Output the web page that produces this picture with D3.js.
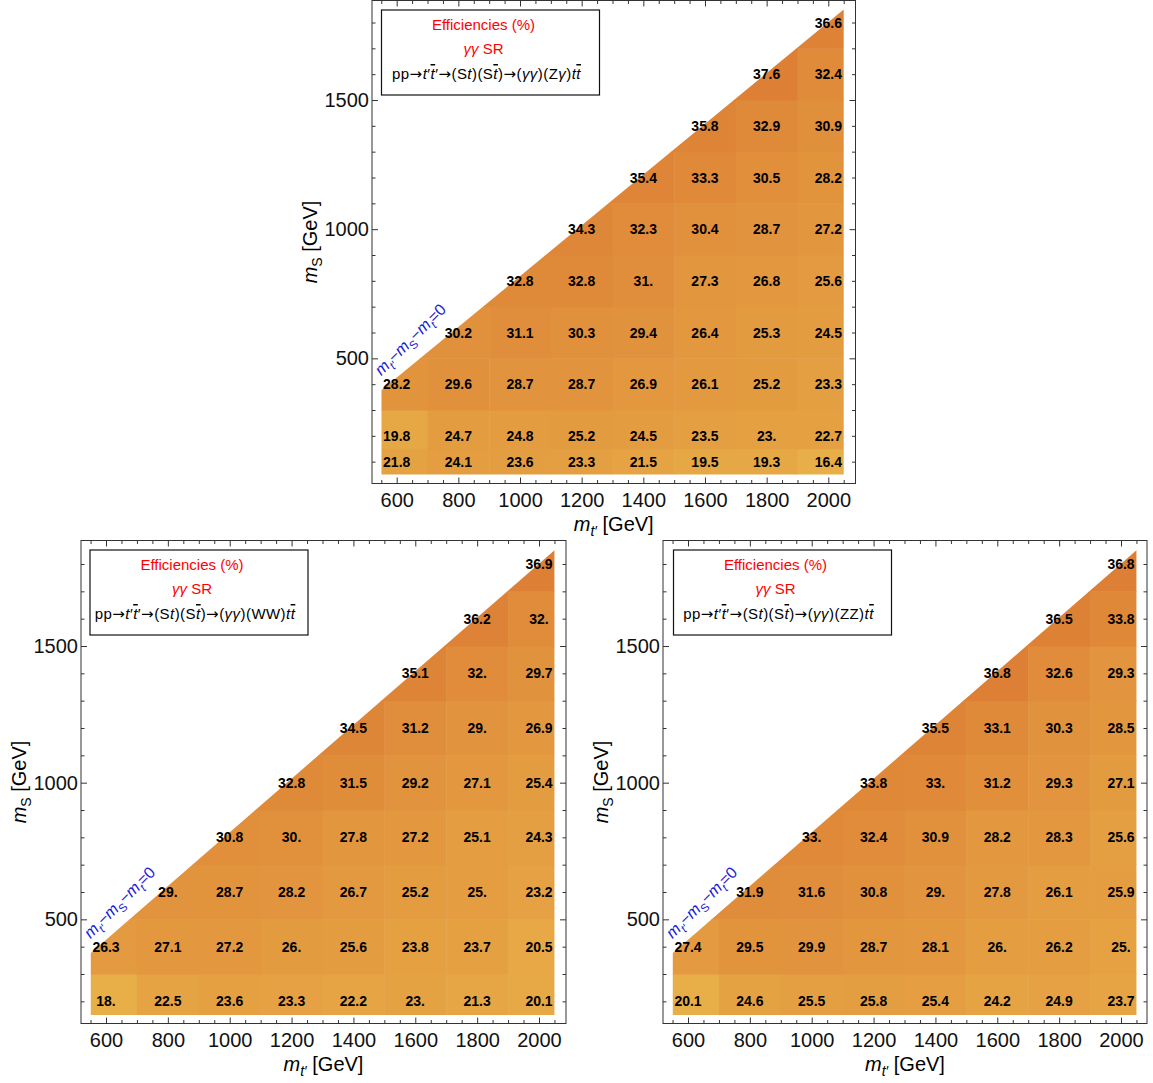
<!DOCTYPE html>
<html>
<head>
<meta charset="utf-8">
<script src="https://cdn.jsdelivr.net/npm/d3@7"></script>
<style>
	body { margin: 0; background: #fff; }
	svg text { font-family: "Liberation Sans", Arial, sans-serif; }
</style>
</head>
<body>
<div id="chart"></div>
<script>
// grid of the scan: m_t' columns, m_S rows
const mtValues = [600, 800, 1000, 1200, 1400, 1600, 1800, 2000];
const msTop = [100, 200, 400, 600, 800, 1000, 1200, 1400, 1600, 1800];
const msBottom = [200, 400, 600, 800, 1000, 1200, 1400, 1600, 1800];

// efficiencies (%), one row per m_S value, null above the kinematic edge
const effZgamma = [
	[21.8, 24.1, 23.6, 23.3, 21.5, 19.5, 19.3, 16.4],
	[19.8, 24.7, 24.8, 25.2, 24.5, 23.5, 23.0, 22.7],
	[28.2, 29.6, 28.7, 28.7, 26.9, 26.1, 25.2, 23.3],
	[null, 30.2, 31.1, 30.3, 29.4, 26.4, 25.3, 24.5],
	[null, null, 32.8, 32.8, 31.0, 27.3, 26.8, 25.6],
	[null, null, null, 34.3, 32.3, 30.4, 28.7, 27.2],
	[null, null, null, null, 35.4, 33.3, 30.5, 28.2],
	[null, null, null, null, null, 35.8, 32.9, 30.9],
	[null, null, null, null, null, null, 37.6, 32.4],
	[null, null, null, null, null, null, null, 36.6]
];

const effWW = [
	[18.0, 22.5, 23.6, 23.3, 22.2, 23.0, 21.3, 20.1],
	[26.3, 27.1, 27.2, 26.0, 25.6, 23.8, 23.7, 20.5],
	[null, 29.0, 28.7, 28.2, 26.7, 25.2, 25.0, 23.2],
	[null, null, 30.8, 30.0, 27.8, 27.2, 25.1, 24.3],
	[null, null, null, 32.8, 31.5, 29.2, 27.1, 25.4],
	[null, null, null, null, 34.5, 31.2, 29.0, 26.9],
	[null, null, null, null, null, 35.1, 32.0, 29.7],
	[null, null, null, null, null, null, 36.2, 32.0],
	[null, null, null, null, null, null, null, 36.9]
];

const effZZ = [
	[20.1, 24.6, 25.5, 25.8, 25.4, 24.2, 24.9, 23.7],
	[27.4, 29.5, 29.9, 28.7, 28.1, 26.0, 26.2, 25.0],
	[null, 31.9, 31.6, 30.8, 29.0, 27.8, 26.1, 25.9],
	[null, null, 33.0, 32.4, 30.9, 28.2, 28.3, 25.6],
	[null, null, null, 33.8, 33.0, 31.2, 29.3, 27.1],
	[null, null, null, null, 35.5, 33.1, 30.3, 28.5],
	[null, null, null, null, null, 36.8, 32.6, 29.3],
	[null, null, null, null, null, null, 36.5, 33.8],
	[null, null, null, null, null, null, null, 36.8]
];

const xTicks = [600, 800, 1000, 1200, 1400, 1600, 1800, 2000];
const yTicks = [500, 1000, 1500];

class EfficiencyPanel {
	constructor(svg, opts) {
		this.svg = svg;
		this.opts = opts;
		this.g = svg.append('g').attr('class', 'panel');
		this.x = d3.scaleLinear().domain([600, 2000]).range(opts.xRange);
		this.y = d3.scaleLinear().domain([0, 1500]).range(opts.yRange);
	}

	fmt(v) {
		return Number.isInteger(v) ? v + '.' : v.toFixed(1);
	}

	cells() {
		let o = this.opts;
		let rows = o.ms;
		let out = [];
		o.values.forEach((row, i) => {
			let first = row.findIndex(v => v !== null);
			row.forEach((v, j) => {
				if (v === null) return;
				out.push({
					v: v, mt: mtValues[j], ms: rows[i],
					x0: j == first ? o.xEdge[0] : (mtValues[j - 1] + mtValues[j]) / 2,
					x1: j == mtValues.length - 1 ? o.xEdge[1] : (mtValues[j] + mtValues[j + 1]) / 2,
					y0: i == 0 ? o.yEdge[0] : (rows[i - 1] + rows[i]) / 2,
					y1: i == rows.length - 1 ? o.yEdge[1] + 50 : (rows[i] + rows[i + 1]) / 2
				});
			});
		});
		return out;
	}

	draw() {
		let o = this.opts, x = this.x, y = this.y, g = this.g;
		let data = this.cells();
		let flat = data.map(d => d.v);
		let clr = d3.scaleLinear().domain(d3.extent(flat)).range(['#e8ae48', '#dd8035']);

		// region below m_t' - m_S - m_t = 0
		let edge = o.diagonal;
		let poly = [
			[o.xEdge[0], o.yEdge[0]], [edge[0][0], edge[0][1]], [edge[1][0], edge[1][1]], [o.xEdge[1], o.yEdge[0]]
		].map(p => [x(p[0]), y(p[1])]);

		g.append('clipPath').attr('id', 'clip-' + o.id)
			.append('path').attr('d', 'M' + poly.join('L') + 'Z');

		g.append('g')
			.attr('clip-path', 'url(#clip-' + o.id + ')')
			.selectAll('rect')
			.data(data)
			.enter()
			.append('rect')
			.attr('x', d => x(d.x0))
			.attr('y', d => y(d.y1))
			.attr('width', d => x(d.x1) - x(d.x0) + 0.5)
			.attr('height', d => y(d.y0) - y(d.y1) + 0.5)
			.attr('fill', d => clr(d.v));

		g.selectAll('.val')
			.data(data)
			.enter()
			.append('text')
			.attr('class', 'val')
			.attr('x', d => x(d.mt))
			.attr('y', d => y(d.ms))
			.attr('dy', '0.36em')
			.attr('text-anchor', 'middle')
			.attr('font-size', 14)
			.attr('font-weight', 'bold')
			.text(d => this.fmt(d.v));

		this.drawAxes();
		this.drawDiagonalLabel();
		this.drawLegend();
	}

	drawAxes() {
		let o = this.opts, x = this.x, y = this.y, g = this.g;
		let f = o.frame;
		let xMinor = d3.range(550, 2051, 50).filter(v => xTicks.indexOf(v) < 0);
		let yMinor = d3.range(100, 1900, 100).filter(v => yTicks.indexOf(v) < 0 && y(v) < f[3] && y(v) > f[2]);
		let num = d3.format('d');

		let addAxis = (axis, tr) => {
			let a = g.append('g').attr('transform', tr).call(axis);
			a.select('.domain').remove();
			a.selectAll('line').attr('stroke', '#333');
			a.selectAll('text').attr('font-size', 20).attr('fill', '#111').attr('font-family', '"Liberation Sans", Arial, sans-serif');
			return a;
		};

		addAxis(d3.axisBottom(x).tickValues(xTicks).tickFormat(num).tickSizeInner(-6).tickSizeOuter(0).tickPadding(9), 'translate(0,' + f[3] + ')');
		addAxis(d3.axisBottom(x).tickValues(xMinor).tickSizeInner(-3.5).tickSizeOuter(0).tickFormat(''), 'translate(0,' + f[3] + ')');
		addAxis(d3.axisTop(x).tickValues(xTicks).tickSizeInner(-6).tickSizeOuter(0).tickFormat(''), 'translate(0,' + f[2] + ')');
		addAxis(d3.axisTop(x).tickValues(xMinor).tickSizeInner(-3.5).tickSizeOuter(0).tickFormat(''), 'translate(0,' + f[2] + ')');
		addAxis(d3.axisLeft(y).tickValues(yTicks).tickFormat(num).tickSizeInner(-6).tickSizeOuter(0).tickPadding(3), 'translate(' + f[0] + ',0)');
		addAxis(d3.axisLeft(y).tickValues(yMinor).tickSizeInner(-3.5).tickSizeOuter(0).tickFormat(''), 'translate(' + f[0] + ',0)');
		addAxis(d3.axisRight(y).tickValues(yTicks).tickSizeInner(-6).tickSizeOuter(0).tickFormat(''), 'translate(' + f[1] + ',0)');
		addAxis(d3.axisRight(y).tickValues(yMinor).tickSizeInner(-3.5).tickSizeOuter(0).tickFormat(''), 'translate(' + f[1] + ',0)');

		g.append('rect')
			.attr('x', f[0]).attr('y', f[2])
			.attr('width', f[1] - f[0]).attr('height', f[3] - f[2])
			.attr('fill', 'none').attr('stroke', '#333').attr('stroke-width', 1);

		// axis titles
		let xt = g.append('text')
			.attr('x', (f[0] + f[1]) / 2)
			.attr('y', f[3] + 47)
			.attr('text-anchor', 'middle')
			.attr('font-size', 20);
		xt.append('tspan').attr('font-style', 'italic').text('m');
		xt.append('tspan').attr('font-style', 'italic').attr('font-size', 14).attr('dy', 5).text('t′');
		xt.append('tspan').attr('dy', -5).text(' [GeV]');

		let yt = g.append('text')
			.attr('transform', 'translate(' + (f[0] - 55) + ',' + ((f[2] + f[3]) / 2) + ') rotate(-90)')
			.attr('text-anchor', 'middle')
			.attr('font-size', 20);
		yt.append('tspan').attr('font-style', 'italic').text('m');
		yt.append('tspan').attr('font-size', 14).attr('dy', 5).text('S');
		yt.append('tspan').attr('dy', -5).text(' [GeV]');
	}

	drawDiagonalLabel() {
		let o = this.opts, x = this.x, y = this.y;
		let px = x(550), py = y(o.diagonal[0][1]) - 14;
		let t = this.g.append('text')
			.attr('transform', 'translate(' + px + ',' + py + ') rotate(-45)')
			.attr('font-size', 16)
			.attr('fill', '#1a1ad8');
		let parts = [
			['m', 'italic', 0], ['t′', 'italic', 1], ['−', 'normal', -1], ['m', 'italic', 0], ['S', 'normal', 1],
			['−', 'normal', -1], ['m', 'italic', 0], ['t', 'italic', 1], ['=0', 'normal', -1]
		];
		parts.forEach(p => {
			t.append('tspan')
				.attr('font-style', p[1])
				.attr('font-size', p[2] == 1 ? 11.5 : 16)
				.attr('dy', p[2] * 4.5)
				.text(p[0]);
		});
	}

	drawLegend() {
		let o = this.opts, g = this.g;
		let bx = o.legend[0], by = o.legend[1];
		g.append('rect')
			.attr('x', bx).attr('y', by)
			.attr('width', 218).attr('height', 85)
			.attr('fill', '#fff').attr('stroke', '#111').attr('stroke-width', 1.2);

		g.append('text')
			.attr('x', bx + 102).attr('y', by + 20)
			.attr('text-anchor', 'middle').attr('font-size', 15).attr('fill', '#f00')
			.text('Efficiencies (%)');

		let sr = g.append('text')
			.attr('x', bx + 102).attr('y', by + 44)
			.attr('text-anchor', 'middle').attr('font-size', 15).attr('fill', '#f00');
		sr.append('tspan').attr('font-style', 'italic').text('γγ');
		sr.append('tspan').text(' SR');

		let proc = g.append('text')
			.attr('x', bx + 105).attr('y', by + 69)
			.attr('text-anchor', 'middle').attr('font-size', 15).attr('fill', '#000')
			.attr('letter-spacing', 0.45);
		let pieces = [
			['pp'], ['→', 'a'], ['t', 'i'], ['′'], ['t', 'ib'], ['′'], ['→', 'a'], ['(S'], ['t', 'i'], [')(S'], ['t', 'ib'],
			[')'], ['→', 'a'], ['('], ['γγ', 'i'], [')(']
		].concat(o.channel).concat([[')'], ['t', 'i'], ['t', 'ib']]);
		pieces.forEach(p => {
			let s = proc.append('tspan').text(p[0]);
			if (p[1] == 'i' || p[1] == 'ib') s.attr('font-style', 'italic');
			if (p[1] == 'ib') s.style('text-decoration', 'overline');
			if (p[1] == 'a') s.attr('font-family', '"DejaVu Sans", sans-serif').attr('font-size', 15);
		});
	}
}

let svg = d3.select('#chart').append('svg')
	.attr('width', 1153)
	.attr('height', 1083);

let panels = [
	{
		id: 'zg', values: effZgamma, ms: msTop, channel: [['Z'], ['γ', 'i']],
		frame: [372, 855.5, 0.5, 483.5], xRange: [396.7, 828.3], yRange: [487.5, 100],
		xEdge: [550, 2050], yEdge: [50, 1850], diagonal: [[550, 376], [2050, 1850]], legend: [381.5, 10]
	},
	{
		id: 'ww', values: effWW, ms: msBottom, channel: [['WW']],
		frame: [81, 566, 540.5, 1023.5], xRange: [106, 539], yRange: [1056, 646],
		xEdge: [550, 2050], yEdge: [150, 1850], diagonal: [[550, 376], [2050, 1850]], legend: [90, 550]
	},
	{
		id: 'zz', values: effZZ, ms: msBottom, channel: [['ZZ']],
		frame: [663, 1147, 540.5, 1023.5], xRange: [688, 1121], yRange: [1056, 646],
		xEdge: [550, 2050], yEdge: [150, 1850], diagonal: [[550, 376], [2050, 1850]], legend: [673.5, 550]
	}
];

panels.forEach(p => new EfficiencyPanel(svg, p).draw());
</script>
</body>
</html>
